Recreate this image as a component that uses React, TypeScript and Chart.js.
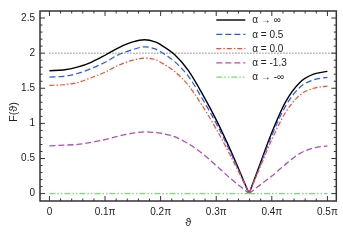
import { useEffect, useRef } from "react";
import { Chart, registerables } from "chart.js";
Chart.register(...registerables);

// θ in units of π
const thetaPi = [0, 0.025, 0.05, 0.075, 0.1, 0.125, 0.15, 0.171, 0.19, 0.2, 0.225, 0.25, 0.275, 0.3, 0.325, 0.35, 0.359, 0.375, 0.4, 0.425, 0.45, 0.475, 0.5];
const alphaPosInf = [1.75, 1.76, 1.8, 1.87, 1.97, 2.08, 2.16, 2.19, 2.16, 2.12, 1.98, 1.75, 1.42, 1.05, 0.63, 0.17, 0, 0.34, 0.87, 1.31, 1.58, 1.7, 1.74];
const alpha05 = [1.66, 1.67, 1.71, 1.78, 1.87, 1.98, 2.05, 2.09, 2.06, 2.02, 1.88, 1.67, 1.35, 1.0, 0.6, 0.16, 0, 0.32, 0.83, 1.25, 1.51, 1.62, 1.655];
const alpha00 = [1.54, 1.55, 1.58, 1.65, 1.73, 1.83, 1.9, 1.93, 1.91, 1.87, 1.74, 1.54, 1.25, 0.92, 0.55, 0.15, 0, 0.3, 0.77, 1.16, 1.4, 1.5, 1.53];
const alphaM13 = [0.68, 0.69, 0.7, 0.73, 0.77, 0.82, 0.86, 0.88, 0.87, 0.86, 0.81, 0.71, 0.57, 0.4, 0.22, 0.06, 0, 0.1, 0.25, 0.42, 0.57, 0.65, 0.68];
const alphaNegInf = [0, 0, 0, 0, 0, 0, 0, 0, 0, 0, 0, 0, 0, 0, 0, 0, 0, 0, 0, 0, 0, 0, 0];
const seriesLabels = ["α → ∞", "α = 0.5", "α = 0.0", "α = -1.3", "α → -∞"];
const xTickValues = [0, 0.1, 0.2, 0.3, 0.4, 0.5];
const yTickValues = [0, 0.5, 1, 1.5, 2, 2.5];
const referenceLevel = 2;

const X_MIN = -0.017;
const X_MAX = 0.516;
const Y_MIN = -0.105;
const Y_MAX = 2.6;

const styles = [
  { color: "#000000", dash: [] as number[], width: 1.4 },
  { color: "#2456ff", dash: [6, 3], width: 1.2 },
  { color: "#ff4a2a", dash: [5, 2, 1.5, 2], width: 1.2 },
  { color: "#b04cc0", dash: [6, 3], width: 1.3 },
  { color: "#6ee36e", dash: [6, 2, 1.5, 2, 1.5, 2], width: 1.2 },
];

const FONT = "'Liberation Sans', Arial, Helvetica, sans-serif";

const framePlugin = {
  id: "frame",
  afterDraw(chart: any) {
    const { ctx, chartArea: ca, scales } = chart;
    const xs = scales.x;
    const ys = scales.y;
    ctx.save();
    ctx.strokeStyle = "#333";
    ctx.lineWidth = 1;
    const seg = (x1: number, y1: number, x2: number, y2: number) => {
      ctx.beginPath();
      ctx.moveTo(x1, y1);
      ctx.lineTo(x2, y2);
      ctx.stroke();
    };
    for (let k = 0; k <= 25; k++) {
      const py = ys.getPixelForValue(k / 10);
      const len = k % 5 === 0 ? 5 : 2.5;
      seg(ca.left, py, ca.left + len, py);
      seg(ca.right, py, ca.right - len, py);
    }
    for (let k = 0; k <= 25; k++) {
      const px = xs.getPixelForValue(k / 50);
      const len = k % 5 === 0 ? 5 : 2.5;
      seg(px, ca.bottom, px, ca.bottom - len);
      seg(px, ca.top, px, ca.top + len);
    }
    ctx.lineWidth = 1.5;
    ctx.strokeRect(ca.left, ca.top, ca.right - ca.left, ca.bottom - ca.top);

    // legend
    ctx.font = `10px ${FONT}`;
    ctx.fillStyle = "#222";
    ctx.textBaseline = "middle";
    ctx.textAlign = "left";
    for (let i = 0; i < seriesLabels.length; i++) {
      const yy = ca.top + 9 + i * 14.3;
      const st = styles[i];
      ctx.strokeStyle = st.color;
      ctx.lineWidth = st.width;
      ctx.setLineDash(st.dash);
      seg(ca.right - 120, yy, ca.right - 91, yy);
      ctx.setLineDash([]);
      ctx.fillText(seriesLabels[i], ca.right - 84, yy + 0.5);
    }

    // y-axis title
    ctx.save();
    ctx.font = `11px ${FONT}`;
    ctx.fillStyle = "#222";
    ctx.textAlign = "center";
    ctx.textBaseline = "middle";
    ctx.translate(14, (ca.top + ca.bottom) / 2 + 6);
    ctx.rotate(-Math.PI / 2);
    ctx.fillText("F(ϑ)", 0, 0);
    ctx.restore();
    ctx.restore();
  },
};

export default function App() {
  const ref = useRef<HTMLCanvasElement>(null);
  useEffect(() => {
    if (!ref.current) return;
    const all = [alphaPosInf, alpha05, alpha00, alphaM13, alphaNegInf];
    const zeroIdx = thetaPi.indexOf(0.359);
    const datasets: any[] = [];
    all.forEach((ys, i) => {
      const pts = thetaPi.map((t, j) => ({ x: t, y: ys[j] }));
      const parts = [pts.slice(0, zeroIdx + 1), pts.slice(zeroIdx)];
      parts.forEach((p) => {
        datasets.push({
          label: seriesLabels[i],
          data: p,
          borderColor: styles[i].color,
          borderDash: styles[i].dash,
          borderWidth: styles[i].width,
          pointRadius: 0,
          fill: false,
          cubicInterpolationMode: "monotone",
          order: 5 - i,
        });
      });
    });
    datasets.push({
      label: "ref",
      data: [
        { x: 0, y: referenceLevel },
        { x: X_MAX, y: referenceLevel },
      ],
      borderColor: "#444",
      borderDash: [1, 2],
      borderWidth: 1,
      pointRadius: 0,
      fill: false,
      order: 10,
    });

    const chart = new Chart(ref.current, {
      type: "line",
      data: { datasets },
      options: {
        animation: false,
        responsive: true,
        maintainAspectRatio: false,
        layout: { padding: { top: 5, right: 6, left: 0, bottom: 0 } },
        plugins: { legend: { display: false }, tooltip: { enabled: false } },
        scales: {
          x: {
            type: "linear",
            min: X_MIN,
            max: X_MAX,
            grid: { display: false, drawTicks: false },
            border: { display: false },
            afterBuildTicks: (s: any) => {
              s.ticks = xTickValues.map((v) => ({ value: v }));
            },
            afterFit: (s: any) => {
              s.height = 41;
            },
            ticks: {
              padding: 5,
              color: "#222",
              font: { family: FONT, size: 10 },
              maxRotation: 0,
              callback: (v: any) => (v === 0 ? "0" : Number(v).toFixed(1) + "π"),
            },
            title: {
              display: true,
              text: "ϑ",
              color: "#222",
              font: { family: FONT, size: 11 },
              padding: { top: 0, bottom: 12 },
            },
          },
          y: {
            type: "linear",
            min: Y_MIN,
            max: Y_MAX,
            grid: { display: false, drawTicks: false },
            border: { display: false },
            afterBuildTicks: (s: any) => {
              s.ticks = yTickValues.map((v) => ({ value: v }));
            },
            afterFit: (s: any) => {
              s.width = 40;
            },
            ticks: {
              padding: 5,
              color: "#222",
              font: { family: FONT, size: 10 },
              callback: (v: any) => String(v),
            },
          },
        },
      },
      plugins: [framePlugin],
    });
    return () => chart.destroy();
  }, []);
  return (
    <div style={{ position: "fixed", left: 0, top: 0, width: 343, height: 242, background: "#fff" }}>
      <canvas ref={ref} />
    </div>
  );
}
